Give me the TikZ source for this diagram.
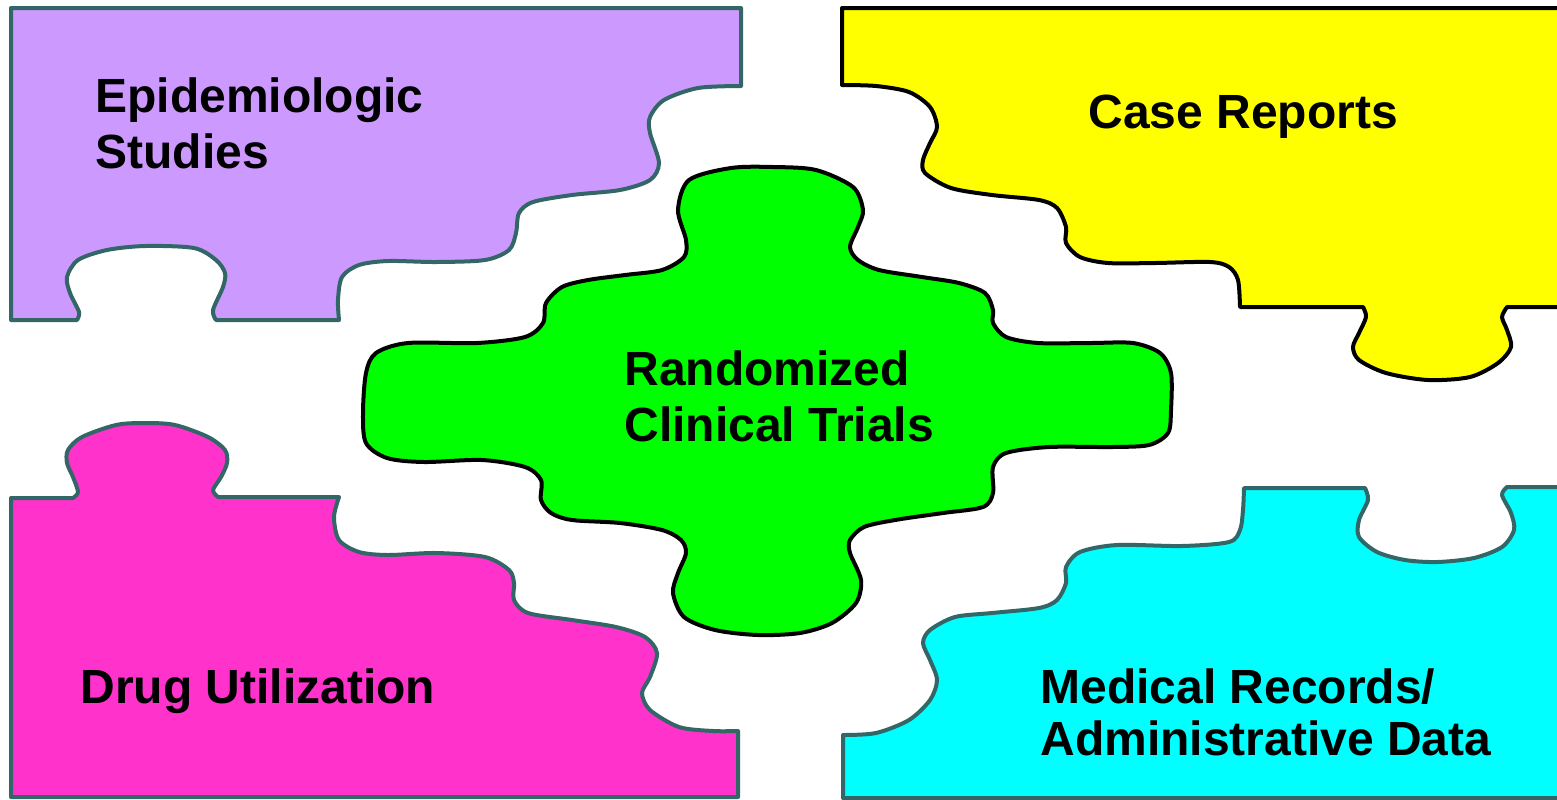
\documentclass[tikz,border=0pt]{standalone}
\usepackage{fontspec}
\setmainfont{Liberation Sans}
\definecolor{edge}{HTML}{336666}
\definecolor{lilac}{HTML}{CC99FF}
\definecolor{pink}{HTML}{FF33CC}
\definecolor{lemon}{HTML}{FFFF00}
\definecolor{lime}{HTML}{00FF00}
\definecolor{aqua}{HTML}{00FFFF}
\tikzset{pz/.style={draw=edge,line width=2pt,line join=round},bk/.style={pz,draw=black},lb/.style={anchor=base west,align=left,inner sep=0pt,font=\bfseries\fontsize{24}{28}\selectfont}}
\begin{document}
\begin{tikzpicture}[x=0.5pt,y=-0.5pt]
\path[use as bounding box,fill=white](0,0)rectangle(1557,799);
% top left piece
\draw[pz,fill=lilac](11,8)--(741,8)--(741,86)--plot[smooth]coordinates{(741,86)(698,88)(664,100)(650,117)(650,133)(659,163)(650,180)(620,190)(572,195)(533,202)(519,213)(516,233)(509,250)(485,260)(436,262)(388,261)(359,265)(342,277)(338,300)(339,320)}
 --(216,320)--plot[smooth]coordinates{(216,320)(213,310)(223,287)(225,273)(216,260)(194,248)(145,246)(107,250)(78,260)(67,277)(70,293)(79,312)(77,320)}--(11,320)--cycle;
% top right piece
\draw[bk,fill=lemon](842,8)--(1565,8)--(1565,307)--(1507,307)--plot[smooth]coordinates{(1507,307)(1502,317)(1507,330)(1511,347)(1498,363)(1470,377)(1428,380)(1386,373)(1359,360)(1353,347)(1359,333)(1366,317)(1363,307)}
 --(1240,307)--plot[smooth]coordinates{(1240,307)(1238,280)(1229,267)(1210,262)(1155,263)(1108,263)(1080,257)(1066,243)(1066,227)(1057,208)(1039,200)(992,195)(951,188)(925,173)(923,160)(930,143)(937,127)(930,107)(909,92)(876,86)(842,85)}--cycle;
% centre piece
\draw[bk,fill=lime]plot[smooth cycle]coordinates{(678,210)(689,180)(731,168)(773,167)(816,170)(853,187)(863,210)(858,227)(850,247)(858,260)(879,270)(922,277)(959,283)(985,293)(993,310)(993,323)(1006,337)(1038,343)(1091,343)(1133,343)(1160,353)(1171,373)(1171,410)(1168,433)(1149,445)(1112,447)(1049,447)(1006,453)(993,467)(993,493)(983,507)(943,513)(895,520)(864,527)(850,540)(850,553)(861,580)(856,603)(832,623)(800,633)(758,635)(715,630)(684,617)(673,593)(678,573)(686,553)(681,540)(662,530)(620,523)(572,520)(551,513)(541,500)(541,480)(525,467)(482,460)(424,462)(387,458)(366,443)(363,413)(366,373)(376,353)(408,343)(477,343)(525,337)(543,323)(546,303)(562,287)(588,280)(625,275)(662,270)(684,257)(686,240)};
% bottom left piece
\draw[pz,fill=pink](11,797)--(11,498)--(73,498)--plot[smooth]coordinates{(73,498)(78,492)(73,477)(67,463)(68,450)(82,437)(116,425)(145,423)(175,425)(208,437)(225,450)(227,463)(221,477)(213,490)(218,497)}
 --(339,497)--plot[smooth]coordinates{(339,497)(334,517)(339,540)(359,552)(388,555)(436,553)(485,557)(509,570)(514,583)(514,600)(528,613)(572,620)(616,627)(645,637)(657,653)(650,677)(642,693)(650,710)(679,727)(713,731)(738,731)}--(738,797)--cycle;
% bottom right piece
\draw[pz,fill=aqua](843,798)--(843,735)--plot[smooth]coordinates{(843,735)(876,733)(909,720)(930,700)(937,680)(930,660)(923,643)(930,630)(955,617)(992,613)(1039,608)(1057,600)(1066,583)(1066,567)(1080,552)(1117,545)(1182,546)(1229,542)(1240,530)(1243,510)(1244,488)}
 --(1365,488)--plot[smooth]coordinates{(1365,488)(1368,500)(1359,520)(1359,537)(1377,552)(1405,560)(1437,562)(1474,558)(1502,547)(1514,530)(1511,513)(1502,495)(1507,487)}--(1565,487)--(1565,798)--cycle;
\foreach\n/\x/\y/\t in{epi/95/168/{Epidemiologic\\Studies},cas/1088/128/{Case Reports},rct/624/441/{Randomized\\Clinical Trials},dru/80/703/{Drug Utilization},med/1040/755/{Medical Records/\\[-2pt]Administrative Data}}\node[lb](\n)at(\x,\y){\t};
\end{tikzpicture}
\end{document}
